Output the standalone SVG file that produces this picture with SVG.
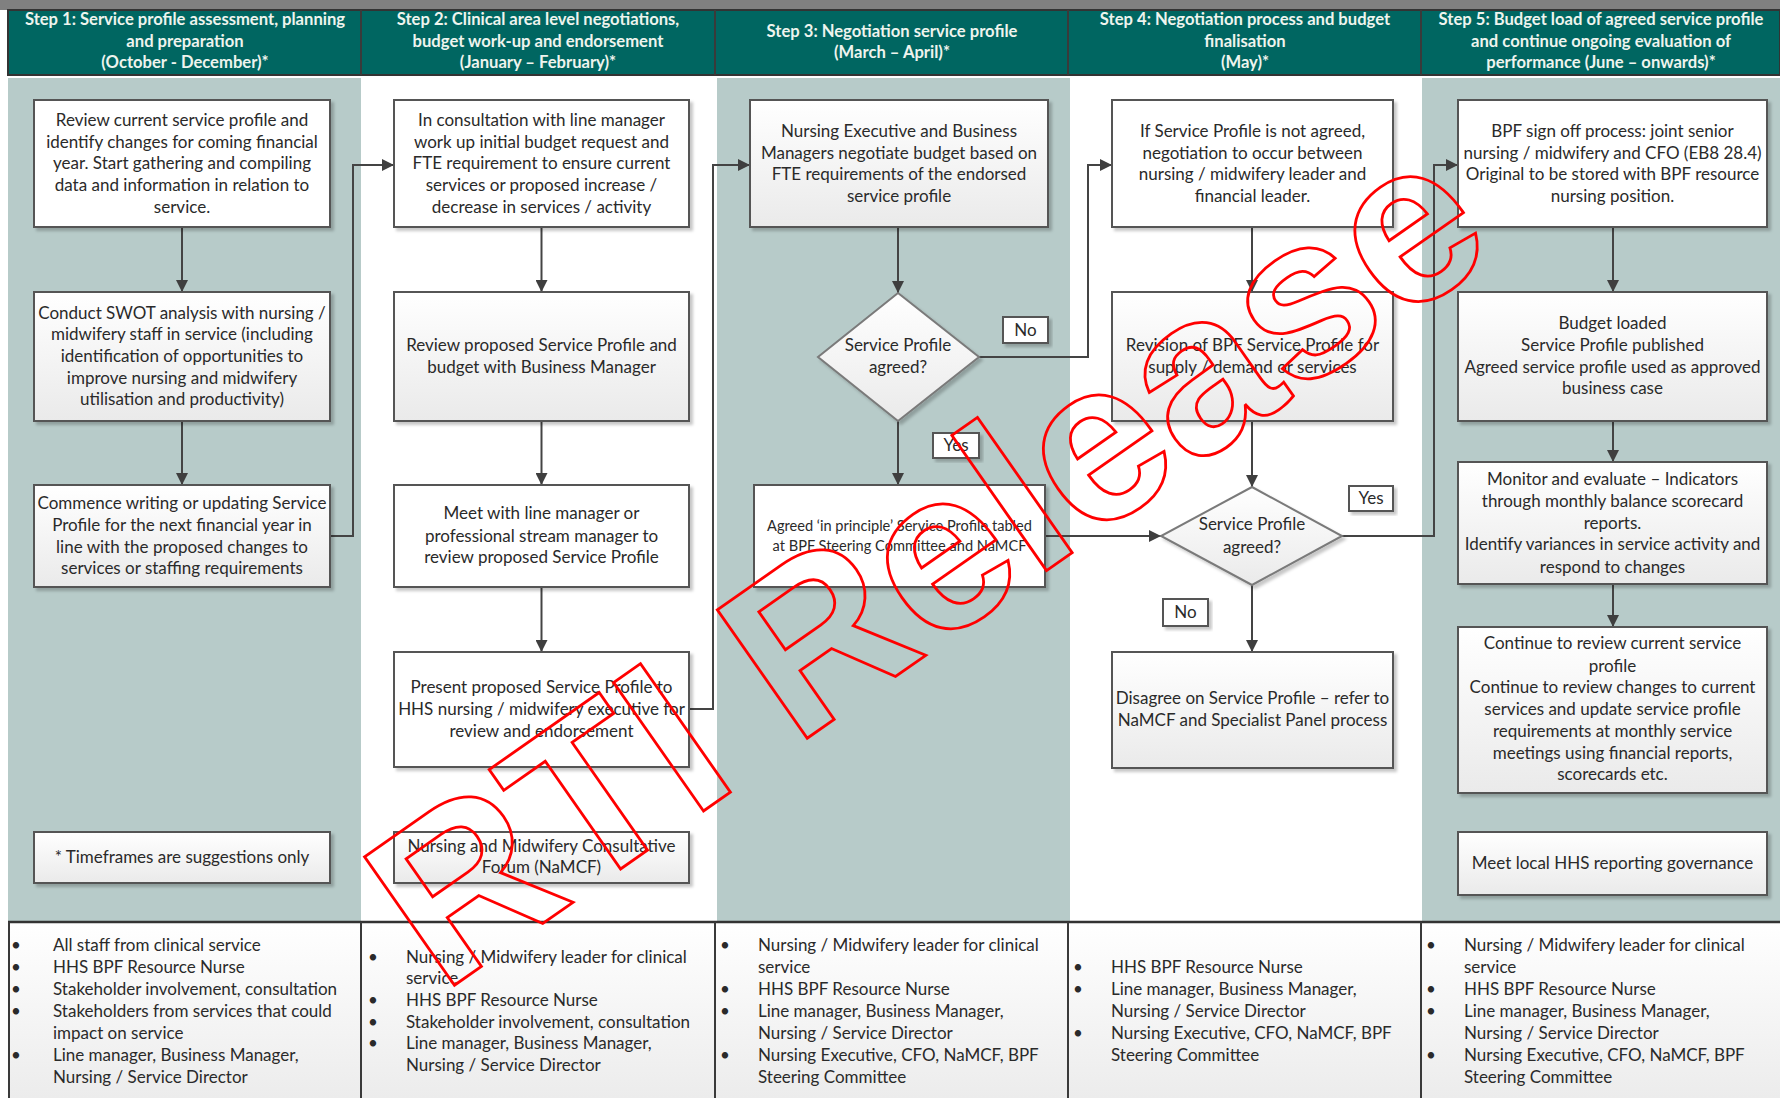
<svg xmlns="http://www.w3.org/2000/svg" width="1780" height="1098" viewBox="0 0 1780 1098">
  <defs>
    <linearGradient id="gBox" x1="0" y1="0" x2="0" y2="1">
      <stop offset="0" stop-color="#ffffff"/>
      <stop offset="1" stop-color="#eaeaea"/>
    </linearGradient>
    <linearGradient id="gTable" x1="0" y1="0" x2="0" y2="1">
      <stop offset="0" stop-color="#ffffff"/>
      <stop offset="1" stop-color="#ececec"/>
    </linearGradient>
    <filter id="shadow" x="-5%" y="-5%" width="115%" height="125%">
      <feDropShadow dx="3" dy="3" stdDeviation="1.5" flood-color="#000" flood-opacity="0.22"/>
    </filter>
    <marker id="arrow" viewBox="0 0 12 12" refX="12" refY="6" markerWidth="12" markerHeight="12" markerUnits="userSpaceOnUse" orient="auto">
      <path d="M0,0 L12,6 L0,12 z" fill="#3f3f3f"/>
    </marker>
    <style>
      .box { stroke: #555; stroke-width: 2; filter: url(#shadow); }
      .plain { fill: #ffffff; }
      .shade { fill: url(#gBox); }
      .dia { fill: url(#gBox); stroke: #7a7a7a; stroke-width: 2; filter: url(#shadow); }
      .lbl { fill: #ffffff; stroke: #555; stroke-width: 2; filter: url(#shadow); }
      .t { font-family: Lato, "Liberation Sans", sans-serif; font-size: 17px; fill: #2a2a2a; text-anchor: middle; }
      .sm { font-size: 14.6px; }
      .h { font-family: Lato, "Liberation Sans", sans-serif; font-weight: bold; font-size: 16.6px; fill: #eef4ee; text-anchor: middle; }
      .b { font-family: Lato, "Liberation Sans", sans-serif; font-size: 17px; fill: #2a2a2a; }
      .lane { fill: #b7cbc9; }
      .conn path { fill: none; stroke: #444; stroke-width: 2; marker-end: url(#arrow); }
      .div { stroke: #3a3a3a; stroke-width: 2; }
      .wm { font-family: "Liberation Sans", Arial, sans-serif; font-weight: bold; font-size: 228px; fill: none; stroke: #ff0000; stroke-width: 2.8; }
    </style>
  </defs>

  <!-- page background -->
  <rect x="0" y="0" width="1780" height="1098" fill="#ffffff"/>

  <!-- shaded swimlanes -->
  <rect class="lane" x="8" y="78" width="353" height="844"/>
  <rect class="lane" x="717" y="78" width="353" height="844"/>
  <rect class="lane" x="1422" y="78" width="358" height="844"/>

  <!-- header band -->
  <g id="header">
    <rect x="0" y="0" width="1780" height="10" fill="#808080"/>
    <rect x="8" y="10" width="1772" height="65" fill="#006661" stroke="#333" stroke-width="2"/>
    <line class="div" x1="361" y1="10" x2="361" y2="75"/>
    <line class="div" x1="715" y1="10" x2="715" y2="75"/>
    <line class="div" x1="1068" y1="10" x2="1068" y2="75"/>
    <line class="div" x1="1421" y1="10" x2="1421" y2="75"/>
    <text class="h"><tspan x="185" y="25">Step 1: Service profile assessment, planning</tspan><tspan x="185" y="47">and preparation</tspan><tspan x="185" y="68">(October -  December)*</tspan></text>
    <text class="h"><tspan x="538" y="25">Step 2: Clinical area level negotiations,</tspan><tspan x="538" y="47">budget work-up and endorsement</tspan><tspan x="538" y="68">(January – February)*</tspan></text>
    <text class="h"><tspan x="892" y="37">Step 3: Negotiation service profile</tspan><tspan x="892" y="58">(March – April)*</tspan></text>
    <text class="h"><tspan x="1245" y="25">Step 4: Negotiation process and budget</tspan><tspan x="1245" y="47">finalisation</tspan><tspan x="1245" y="68">(May)*</tspan></text>
    <text class="h"><tspan x="1601" y="25">Step 5: Budget load of agreed service profile</tspan><tspan x="1601" y="47">and continue ongoing evaluation of</tspan><tspan x="1601" y="68">performance (June – onwards)*</tspan></text>
  </g>

  <!-- connectors -->
  <g id="connectors" class="conn">
    <path d="M182,227 V292"/>
    <path d="M182,421 V485"/>
    <path d="M330,536 H353 V165 H394"/>
    <path d="M541.5,227 V292"/>
    <path d="M541.5,421 V485"/>
    <path d="M541.5,587 V652"/>
    <path d="M689,709 H713 V165 H750"/>
    <path d="M898,227 V293"/>
    <path d="M979,357 H1088 V165 H1112"/>
    <path d="M898,421 V485"/>
    <path d="M1045,536 H1161"/>
    <path d="M1252,227 V292"/>
    <path d="M1252,421 V487"/>
    <path d="M1342,536 H1434 V165 H1458"/>
    <path d="M1252,585 V652"/>
    <path d="M1613,227 V292"/>
    <path d="M1613,421 V462"/>
    <path d="M1613,584 V627"/>
  </g>

  <!-- step 1 -->
  <g id="review-current-profile">
    <rect class="box plain" x="34" y="100" width="296" height="127"/>
    <text class="t"><tspan x="182" y="126">Review current service profile and</tspan><tspan x="182" y="148">identify changes for coming financial</tspan><tspan x="182" y="169">year.  Start gathering and compiling</tspan><tspan x="182" y="191">data and information in relation to</tspan><tspan x="182" y="213">service.</tspan></text>
  </g>
  <g id="swot-analysis">
    <rect class="box shade" x="34" y="292" width="296" height="129"/>
    <text class="t"><tspan x="182" y="319">Conduct SWOT analysis with nursing /</tspan><tspan x="182" y="340">midwifery staff in service (including</tspan><tspan x="182" y="362">identification of opportunities to</tspan><tspan x="182" y="384">improve nursing and midwifery</tspan><tspan x="182" y="405">utilisation and productivity)</tspan></text>
  </g>
  <g id="write-service-profile">
    <rect class="box shade" x="34" y="485" width="296" height="102"/>
    <text class="t"><tspan x="182" y="509">Commence writing or updating Service</tspan><tspan x="182" y="531">Profile for the next financial year in</tspan><tspan x="182" y="553">line with the proposed changes to</tspan><tspan x="182" y="574">services or staffing requirements</tspan></text>
  </g>
  <g id="timeframes-note">
    <rect class="box shade" x="34" y="832" width="296" height="51"/>
    <text class="t"><tspan x="182" y="863">* Timeframes are suggestions only</tspan></text>
  </g>

  <!-- step 2 -->
  <g id="initial-budget-request">
    <rect class="box plain" x="394" y="100" width="295" height="127"/>
    <text class="t"><tspan x="541.5" y="126">In consultation with line manager</tspan><tspan x="541.5" y="148">work up initial budget request  and</tspan><tspan x="541.5" y="169">FTE requirement to ensure current</tspan><tspan x="541.5" y="191">services or proposed increase /</tspan><tspan x="541.5" y="213">decrease in services / activity</tspan></text>
  </g>
  <g id="review-with-business-manager">
    <rect class="box shade" x="394" y="292" width="295" height="129"/>
    <text class="t"><tspan x="541.5" y="351">Review proposed Service Profile and</tspan><tspan x="541.5" y="373">budget with Business Manager</tspan></text>
  </g>
  <g id="meet-line-manager">
    <rect class="box plain" x="394" y="485" width="295" height="102"/>
    <text class="t"><tspan x="541.5" y="519">Meet with line manager or</tspan><tspan x="541.5" y="542">professional stream manager to</tspan><tspan x="541.5" y="563">review proposed Service Profile</tspan></text>
  </g>
  <g id="present-to-executive">
    <rect class="box plain" x="394" y="652" width="295" height="115"/>
    <text class="t"><tspan x="541.5" y="693">Present proposed Service Profile to</tspan><tspan x="541.5" y="715">HHS nursing / midwifery executive for</tspan><tspan x="541.5" y="737">review and endorsement</tspan></text>
  </g>
  <g id="namcf-forum">
    <rect class="box shade" x="394" y="832" width="295" height="51"/>
    <text class="t"><tspan x="541.5" y="852">Nursing and Midwifery Consultative</tspan><tspan x="541.5" y="873">Forum (NaMCF)</tspan></text>
  </g>

  <!-- step 3 -->
  <g id="negotiate-budget">
    <rect class="box shade" x="750" y="100" width="298" height="127"/>
    <text class="t"><tspan x="899" y="137">Nursing Executive and Business</tspan><tspan x="899" y="159">Managers negotiate budget based on</tspan><tspan x="899" y="180">FTE requirements of the endorsed</tspan><tspan x="899" y="202">service profile</tspan></text>
  </g>
  <g id="decision-agreed-1">
    <path class="dia" d="M898,293 L979,357 L898,421 L818,357 Z"/>
    <text class="t"><tspan x="898" y="351">Service Profile</tspan><tspan x="898" y="373">agreed?</tspan></text>
  </g>
  <g id="label-no-1">
    <rect class="lbl" x="1003" y="317" width="45" height="26"/>
    <text class="t"><tspan x="1025.5" y="336">No</tspan></text>
  </g>
  <g id="label-yes-1">
    <rect class="lbl" x="933" y="433" width="46" height="25"/>
    <text class="t"><tspan x="956" y="451">Yes</tspan></text>
  </g>
  <g id="tabled-at-committee">
    <rect class="box plain" x="754" y="485" width="291" height="102"/>
    <text class="t sm"><tspan x="899.5" y="531">Agreed ‘in principle’ Service Profile tabled</tspan><tspan x="899.5" y="551">at BPF Steering Committee and NaMCF</tspan></text>
  </g>

  <!-- step 4 -->
  <g id="negotiate-leaders">
    <rect class="box plain" x="1112" y="100" width="281" height="127"/>
    <text class="t"><tspan x="1252.5" y="137">If Service Profile is not agreed,</tspan><tspan x="1252.5" y="159">negotiation to occur between</tspan><tspan x="1252.5" y="180">nursing / midwifery leader and</tspan><tspan x="1252.5" y="202">financial leader.</tspan></text>
  </g>
  <g id="revise-profile">
    <rect class="box shade" x="1112" y="292" width="281" height="129"/>
    <text class="t"><tspan x="1252.5" y="351">Revision of BPF Service Profile for</tspan><tspan x="1252.5" y="373">supply / demand or services</tspan></text>
  </g>
  <g id="decision-agreed-2">
    <path class="dia" d="M1252,487 L1342,536 L1252,585 L1161,536 Z"/>
    <text class="t"><tspan x="1252" y="530">Service Profile</tspan><tspan x="1252" y="553">agreed?</tspan></text>
  </g>
  <g id="label-yes-2">
    <rect class="lbl" x="1349" y="486" width="44" height="25"/>
    <text class="t"><tspan x="1371" y="504">Yes</tspan></text>
  </g>
  <g id="label-no-2">
    <rect class="lbl" x="1163" y="599" width="45" height="27"/>
    <text class="t"><tspan x="1185.5" y="618">No</tspan></text>
  </g>
  <g id="disagree-refer">
    <rect class="box shade" x="1112" y="652" width="281" height="116"/>
    <text class="t"><tspan x="1252.5" y="704">Disagree on Service Profile – refer to</tspan><tspan x="1252.5" y="726">NaMCF and Specialist Panel process</tspan></text>
  </g>

  <!-- step 5 -->
  <g id="bpf-sign-off">
    <rect class="box plain" x="1458" y="100" width="309" height="127"/>
    <text class="t"><tspan x="1612.5" y="137">BPF sign off process: joint senior</tspan><tspan x="1612.5" y="159">nursing / midwifery and CFO (EB8 28.4)</tspan><tspan x="1612.5" y="180">Original to be stored with BPF resource</tspan><tspan x="1612.5" y="202">nursing position.</tspan></text>
  </g>
  <g id="budget-loaded">
    <rect class="box shade" x="1458" y="292" width="309" height="129"/>
    <text class="t"><tspan x="1612.5" y="329">Budget loaded</tspan><tspan x="1612.5" y="351">Service Profile published</tspan><tspan x="1612.5" y="373">Agreed service profile used as approved</tspan><tspan x="1612.5" y="394">business case</tspan></text>
  </g>
  <g id="monitor-evaluate">
    <rect class="box shade" x="1458" y="462" width="309" height="122"/>
    <text class="t"><tspan x="1612.5" y="485">Monitor and evaluate – Indicators</tspan><tspan x="1612.5" y="507">through monthly balance scorecard</tspan><tspan x="1612.5" y="529">reports.</tspan><tspan x="1612.5" y="550">Identify variances in service activity and</tspan><tspan x="1612.5" y="573">respond to changes</tspan></text>
  </g>
  <g id="continue-review">
    <rect class="box shade" x="1458" y="627" width="309" height="166"/>
    <text class="t"><tspan x="1612.5" y="649">Continue to review current service</tspan><tspan x="1612.5" y="672">profile</tspan><tspan x="1612.5" y="693">Continue to review changes to current</tspan><tspan x="1612.5" y="715">services and update service profile</tspan><tspan x="1612.5" y="737">requirements at monthly service</tspan><tspan x="1612.5" y="759">meetings using financial reports,</tspan><tspan x="1612.5" y="780">scorecards etc.</tspan></text>
  </g>
  <g id="reporting-governance">
    <rect class="box shade" x="1458" y="832" width="309" height="63"/>
    <text class="t"><tspan x="1612.5" y="869">Meet local HHS reporting governance</tspan></text>
  </g>

  <!-- stakeholder table -->
  <g id="stakeholders">
    <rect x="8" y="922" width="1772" height="176" fill="url(#gTable)"/>
    <line x1="8" y1="922" x2="1780" y2="922" stroke="#333" stroke-width="2.5"/>
    <line class="div" x1="9" y1="922" x2="9" y2="1098"/>
    <line class="div" x1="361" y1="922" x2="361" y2="1098"/>
    <line class="div" x1="715" y1="922" x2="715" y2="1098"/>
    <line class="div" x1="1068" y1="922" x2="1068" y2="1098"/>
    <line class="div" x1="1421" y1="922" x2="1421" y2="1098"/>
    <text class="b">
      <tspan x="11" y="951">•</tspan><tspan x="53" y="951">All staff from clinical service</tspan>
      <tspan x="11" y="973">•</tspan><tspan x="53" y="973">HHS BPF Resource Nurse</tspan>
      <tspan x="11" y="995">•</tspan><tspan x="53" y="995">Stakeholder involvement, consultation</tspan>
      <tspan x="11" y="1017">•</tspan><tspan x="53" y="1017">Stakeholders from services that could</tspan>
      <tspan x="53" y="1039">impact on service</tspan>
      <tspan x="11" y="1061">•</tspan><tspan x="53" y="1061">Line manager, Business Manager,</tspan>
      <tspan x="53" y="1083">Nursing / Service Director</tspan>
    </text>
    <text class="b">
      <tspan x="368" y="963">•</tspan><tspan x="406" y="963">Nursing / Midwifery leader for clinical</tspan>
      <tspan x="406" y="984">service</tspan>
      <tspan x="368" y="1006">•</tspan><tspan x="406" y="1006">HHS BPF Resource Nurse</tspan>
      <tspan x="368" y="1028">•</tspan><tspan x="406" y="1028">Stakeholder involvement, consultation</tspan>
      <tspan x="368" y="1049">•</tspan><tspan x="406" y="1049">Line manager, Business Manager,</tspan>
      <tspan x="406" y="1071">Nursing / Service Director</tspan>
    </text>
    <text class="b">
      <tspan x="720" y="951">•</tspan><tspan x="758" y="951">Nursing / Midwifery leader for clinical</tspan>
      <tspan x="758" y="973">service</tspan>
      <tspan x="720" y="995">•</tspan><tspan x="758" y="995">HHS BPF Resource Nurse</tspan>
      <tspan x="720" y="1017">•</tspan><tspan x="758" y="1017">Line manager, Business Manager,</tspan>
      <tspan x="758" y="1039">Nursing / Service Director</tspan>
      <tspan x="720" y="1061">•</tspan><tspan x="758" y="1061">Nursing Executive, CFO, NaMCF, BPF</tspan>
      <tspan x="758" y="1083">Steering Committee</tspan>
    </text>
    <text class="b">
      <tspan x="1073" y="973">•</tspan><tspan x="1111" y="973">HHS BPF Resource Nurse</tspan>
      <tspan x="1073" y="995">•</tspan><tspan x="1111" y="995">Line manager, Business Manager,</tspan>
      <tspan x="1111" y="1017">Nursing / Service Director</tspan>
      <tspan x="1073" y="1039">•</tspan><tspan x="1111" y="1039">Nursing Executive, CFO, NaMCF, BPF</tspan>
      <tspan x="1111" y="1061">Steering Committee</tspan>
    </text>
    <text class="b">
      <tspan x="1426" y="951">•</tspan><tspan x="1464" y="951">Nursing / Midwifery leader for clinical</tspan>
      <tspan x="1464" y="973">service</tspan>
      <tspan x="1426" y="995">•</tspan><tspan x="1464" y="995">HHS BPF Resource Nurse</tspan>
      <tspan x="1426" y="1017">•</tspan><tspan x="1464" y="1017">Line manager, Business Manager,</tspan>
      <tspan x="1464" y="1039">Nursing / Service Director</tspan>
      <tspan x="1426" y="1061">•</tspan><tspan x="1464" y="1061">Nursing Executive, CFO, NaMCF, BPF</tspan>
      <tspan x="1464" y="1083">Steering Committee</tspan>
    </text>
  </g>

  <!-- release stamp -->
  <g id="release-stamp">
    <text class="wm" transform="translate(442,994) rotate(-35)">RTI Release</text>
  </g>
</svg>
